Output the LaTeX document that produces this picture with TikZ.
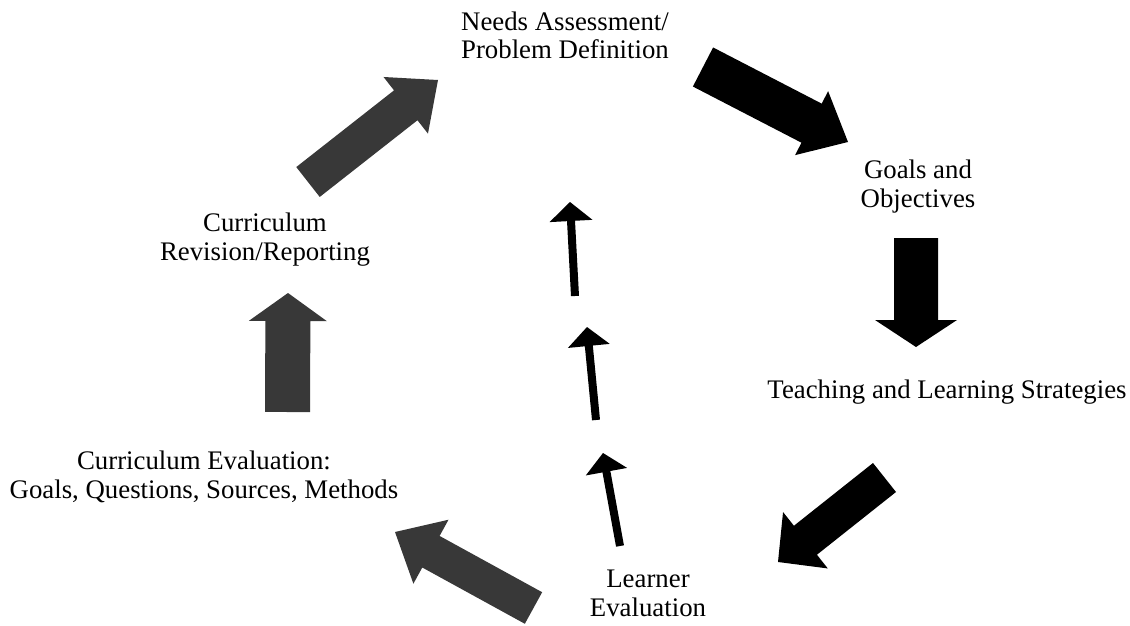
\documentclass[tikz,border=0pt]{standalone}
\usepackage{fontspec}
\setmainfont{Liberation Serif}
\usetikzlibrary{calc}
\tikzset{
  lbl/.style={align=center, font=\fontsize{26.8}{28.5}\selectfont, inner sep=0pt, anchor=base},
  grayfill/.style={fill=black!78},
  blackfill/.style={fill=black},
}
% #1 style, #2 tail coord name, #3 tip coord name, #4 half shaft, #5 half head, #6 head length
\newcommand{\blockarr}[6]{%
  \fill[#1] ($(#2)!#4!-90:(#3)$)
    -- ($($(#3)!#6!(#2)$)!#4!-90:(#3)$)
    -- ($($(#3)!#6!(#2)$)!#5!-90:(#3)$)
    -- (#3)
    -- ($($(#3)!#6!(#2)$)!#5!90:(#3)$)
    -- ($($(#3)!#6!(#2)$)!#4!90:(#3)$)
    -- ($(#2)!#4!90:(#3)$) -- cycle;}
\begin{document}
\begin{tikzpicture}[x=1pt,y=-1pt]
\useasboundingbox (0,0) rectangle (1130,626);
% labels (anchor = baseline of last line)
\node[lbl] (needs) at (565,59) {Needs Assessment/\\Problem Definition};
\node[lbl] (goals) at (918,207) {Goals and\\Objectives};
\node[lbl] (teach) at (947,398) {Teaching and Learning Strategies};
\node[lbl] (learner) at (648,616) {Learner\\Evaluation};
\node[lbl] (ceval) at (204,498) {Curriculum Evaluation:\\Goals, Questions, Sources, Methods};
\node[lbl] (crev) at (265,260) {Curriculum\\Revision/Reporting};
% big arrows
\coordinate (t1) at (308,182); \coordinate (p1) at (438,80);
\coordinate (t2) at (703,67);  \coordinate (p2) at (848,142);
\coordinate (t3) at (916,238); \coordinate (p3) at (916,347);
\coordinate (t4) at (287.5,412); \coordinate (p4) at (288,293);
\coordinate (t5) at (533.5,608); \coordinate (p5) at (395,532);
\coordinate (t6) at (884.5,477.5); \coordinate (p6) at (778,562);
\blockarr{grayfill}{t1}{p1}{19pt}{36pt}{41pt}
\blockarr{blackfill}{t2}{p2}{22pt}{36pt}{41pt}
\blockarr{blackfill}{t3}{p3}{22pt}{41pt}{27pt}
\blockarr{grayfill}{t4}{p4}{22.5pt}{39pt}{28pt}
\blockarr{grayfill}{t5}{p5}{18pt}{36.5pt}{41pt}
\blockarr{blackfill}{t6}{p6}{18.5pt}{36pt}{35pt}
% small arrows
\coordinate (ta) at (575,296); \coordinate (pa) at (570,202);
\coordinate (tb) at (596,420); \coordinate (pb) at (587,327);
\coordinate (tc) at (620,546); \coordinate (pc) at (603,453);
\blockarr{blackfill}{ta}{pa}{4pt}{21.5pt}{19pt}
\blockarr{blackfill}{tb}{pb}{4pt}{21pt}{19pt}
\blockarr{blackfill}{tc}{pc}{4pt}{21pt}{19pt}
\end{tikzpicture}
\end{document}
